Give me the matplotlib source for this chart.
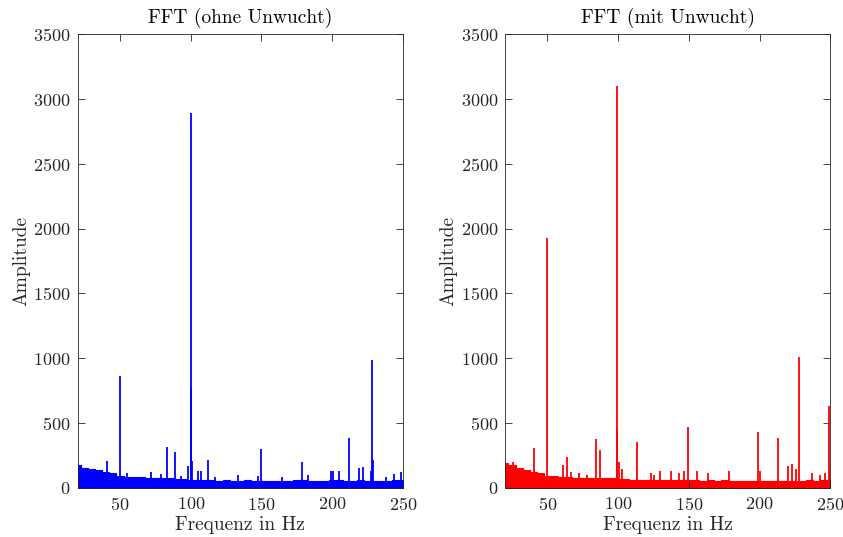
import numpy as np
import matplotlib
matplotlib.use("Agg")
import matplotlib.pyplot as plt

plt.rcParams['font.family'] = 'cmr10'
plt.rcParams['mathtext.fontset'] = 'cm'
plt.rcParams['axes.unicode_minus'] = False
plt.rcParams['axes.formatter.use_mathtext'] = True

# noise floor (upper edge of the dense band), sampled every 5 Hz from 20 to 250 Hz
env_freq = np.arange(20, 251, 5)
env_ohne = [175, 150, 140, 135, 120, 112, 90, 85, 82, 78, 75, 74, 72, 74, 70, 65, 62, 58, 55,
            56, 52, 55, 52, 50, 55, 50, 48, 52, 50, 48, 50, 55, 58, 52, 50, 48, 55, 58, 50,
            52, 55, 50, 52, 48, 50, 55, 60]
env_mit = [190, 175, 150, 135, 120, 110, 92, 90, 85, 80, 76, 74, 74, 72, 74, 72, 68, 65, 62,
           60, 62, 58, 60, 62, 58, 55, 58, 55, 52, 55, 52, 55, 50, 52, 50, 52, 48, 52, 50,
           52, 50, 52, 50, 55, 52, 55, 60]

# single peaks above the noise floor (frequency in Hz, amplitude)
peak_f_ohne = [20.5, 22, 40.7, 50, 55.2, 72, 79, 83.5, 88.7, 93, 98.3, 100, 100.5, 101.1,
               105.4, 107, 112, 117, 133.4, 147.8, 149.4, 164.3, 178.9, 183.1, 199, 200.5,
               205, 211.9, 218.8, 221.5, 227.2, 228, 228.6, 238, 243.9, 248.4]
peak_a_ohne = [180, 175, 202, 860, 113, 118, 105, 315, 272, 90, 169, 2890, 770, 208,
               130, 125, 215, 80, 98, 90, 297, 85, 200, 95, 130, 130,
               125, 385, 150, 160, 130, 985, 215, 80, 105, 120]

peak_f_mit = [20.2, 25.7, 30.9, 40.6, 44.5, 49.8, 60.9, 64.0, 66.8, 72.2, 77.7, 84.7, 87.4,
              99.0, 99.4, 100.6, 102.5, 113.1, 123.5, 125.7, 129.4, 137.7, 142.7, 146.7,
              149.3, 155.5, 163.7, 178.2, 199.2, 200.5, 213.1, 220, 222.8, 225.4, 227.8,
              237.2, 243, 246, 249.1, 250]
peak_a_mit = [198, 200, 155, 305, 100, 1930, 175, 238, 120, 110, 97, 375, 290,
              460, 3100, 200, 140, 350, 110, 95, 125, 125, 110, 125,
              465, 125, 110, 130, 430, 125, 385, 170, 185, 140, 1005,
              115, 100, 110, 633, 140]

panels = [
    ("FFT (ohne Unwucht)", env_ohne, peak_f_ohne, peak_a_ohne, (0, 0, 1)),
    ("FFT (mit Unwucht)", env_mit, peak_f_mit, peak_a_mit, (1, 0, 0)),
]

fig = plt.figure(figsize=(8.43, 5.37), dpi=100)
lefts = [0.092, 0.599]
dark = (0.15, 0.15, 0.15)

for left, (title, env, pf, pa, color) in zip(lefts, panels):
    ax = fig.add_axes([left, 0.092, 0.386, 0.844])
    ax.fill_between(env_freq, 0, env, step='mid', color=color, linewidth=0.8)
    ax.vlines(pf, 0, pa, color=color, linewidth=1.3)
    ax.set_xlim(20, 250)
    ax.set_ylim(0, 3500)
    ax.set_xticks([50, 100, 150, 200, 250])
    ax.set_yticks(range(0, 3501, 500))
    ax.tick_params(direction='in', top=True, right=True, length=5, width=0.6,
                   labelsize=13, colors=dark, pad=5)
    ax.tick_params(axis='x', pad=6)
    for s in ax.spines.values():
        s.set_color(dark)
        s.set_linewidth(0.6)
    ax.set_title(title, fontsize=14, color='black', pad=8)
    ax.set_xlabel("Frequenz in Hz", fontsize=14, color=dark, labelpad=2)
    ax.set_ylabel("Amplitude", fontsize=14, color=dark, labelpad=2)

fig.savefig("out.png", dpi=100)
